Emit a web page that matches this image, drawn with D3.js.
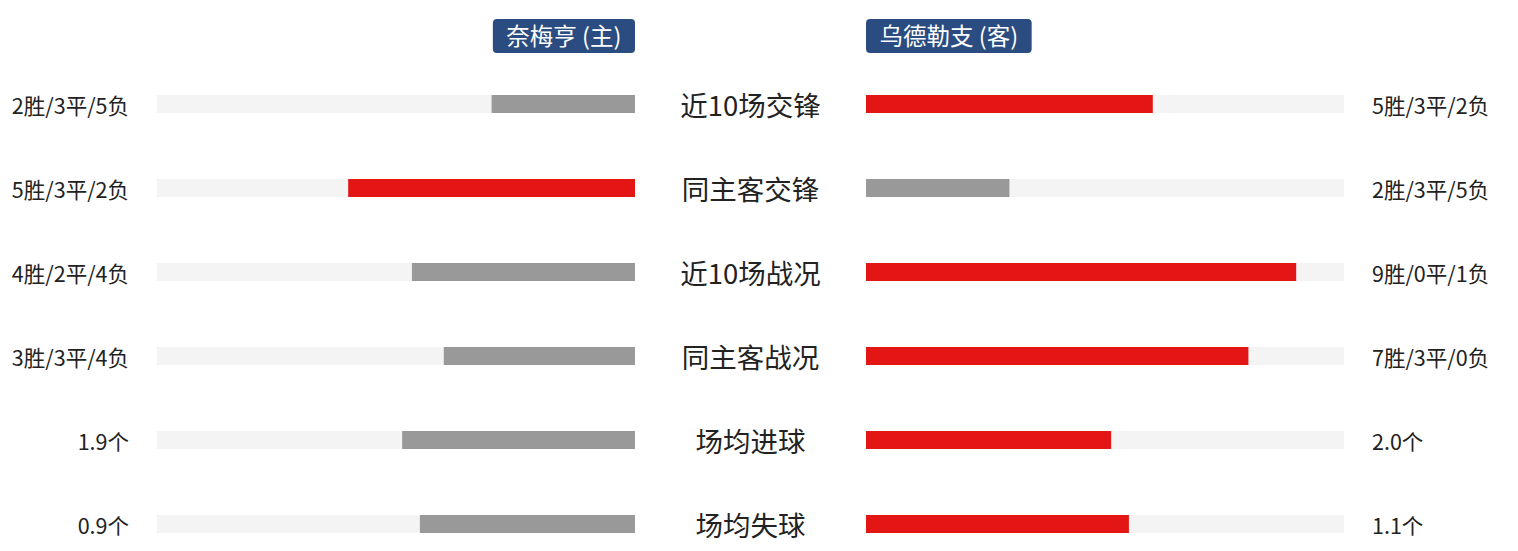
<!DOCTYPE html>
<html>
<head>
<meta charset="utf-8">
<script src="https://cdn.jsdelivr.net/npm/d3@7"></script>
<style>
  body { margin: 0; background: #fff; }
  text { font-family: "Noto Sans CJK SC", "Noto Sans", sans-serif; }
</style>
</head>
<body>
<svg id="chart"></svg>
<script>
const homeTeam = '奈梅亨 (主)'
const awayTeam = '乌德勒支 (客)'

const categories = ['近10场交锋', '同主客交锋', '近10场战况', '同主客战况', '场均进球', '场均失球']

// win / draw / loss records for the first four rows
const homeWins = [2, 5, 4, 3]
const homeDraws = [3, 3, 2, 3]
const homeLosses = [5, 2, 4, 4]
const awayWins = [5, 2, 9, 7]
const awayDraws = [3, 3, 0, 3]
const awayLosses = [2, 5, 1, 0]

// goals per match for the last two rows
const homeGoals = [1.9, 0.9]
const awayGoals = [2.0, 1.1]

const width = 1518
const height = 551
const leftStart = 157
const leftEnd = 635
const rightStart = 866
const rightEnd = 1344
const rowTop = 104
const rowStep = 84
const barHeight = 18

const red = '#e31515'
const gray = '#999999'
const track = '#f4f4f4'
const badge = '#2a4c80'

// build one row per category
const rows = categories.map((name, i) => {
  if (i < 4) {
    const hp = homeWins[i] * 3 + homeDraws[i]
    const ap = awayWins[i] * 3 + awayDraws[i]
    return {
      name,
      home: hp / 30,
      away: ap / 30,
      homeLabel: `${homeWins[i]}胜/${homeDraws[i]}平/${homeLosses[i]}负`,
      awayLabel: `${awayWins[i]}胜/${awayDraws[i]}平/${awayLosses[i]}负`,
    }
  }
  const h = homeGoals[i - 4]
  const a = awayGoals[i - 4]
  return {
    name,
    home: h / (h + a),
    away: a / (h + a),
    homeLabel: `${h.toFixed(1)}个`,
    awayLabel: `${a.toFixed(1)}个`,
  }
})

const y = d3.scalePoint()
  .domain(categories)
  .range([rowTop, rowTop + rowStep * (categories.length - 1)])

const xLeft = d3.scaleLinear().domain([0, 1]).range([leftEnd, leftStart])
const xRight = d3.scaleLinear().domain([0, 1]).range([rightStart, rightEnd])

const svg = d3.select('#chart')
  .attr('width', width)
  .attr('height', height)

// team badges
function addBadge(label, anchorX, side) {
  const g = svg.append('g')
  const t = g.append('text')
    .attr('y', 37)
    .attr('dy', '0.35em')
    .attr('fill', '#fff')
    .attr('font-size', 23.5)
    .text(label)
  const w = t.node().getComputedTextLength() + 27
  const x0 = side === 'left' ? anchorX - w : anchorX
  g.insert('rect', 'text')
    .attr('x', x0)
    .attr('y', 19)
    .attr('width', w)
    .attr('height', 34)
    .attr('rx', 4)
    .attr('fill', badge)
  t.attr('x', x0 + w / 2).attr('text-anchor', 'middle')
}
addBadge(homeTeam, leftEnd, 'left')
addBadge(awayTeam, rightStart, 'right')

const row = svg.selectAll('g.row')
  .data(rows)
  .enter().append('g')
  .attr('class', 'row')
  .attr('transform', d => `translate(0, ${y(d.name)})`)

// background tracks
row.append('rect')
  .attr('x', xLeft(1))
  .attr('y', -barHeight / 2)
  .attr('width', xLeft(0) - xLeft(1))
  .attr('height', barHeight)
  .attr('fill', track)
row.append('rect')
  .attr('x', xRight(0))
  .attr('y', -barHeight / 2)
  .attr('width', xRight(1) - xRight(0))
  .attr('height', barHeight)
  .attr('fill', track)

// value bars, red for the larger side
row.append('rect')
  .attr('x', d => xLeft(d.home))
  .attr('y', -barHeight / 2)
  .attr('width', d => xLeft(0) - xLeft(d.home))
  .attr('height', barHeight)
  .attr('fill', d => d.home > d.away ? red : gray)
row.append('rect')
  .attr('x', xRight(0))
  .attr('y', -barHeight / 2)
  .attr('width', d => xRight(d.away) - xRight(0))
  .attr('height', barHeight)
  .attr('fill', d => d.away > d.home ? red : gray)

// category names in the middle
row.append('text')
  .attr('x', (leftEnd + rightStart) / 2)
  .attr('y', 2)
  .attr('dy', '0.36em')
  .attr('text-anchor', 'middle')
  .attr('font-size', 27.5)
  .attr('fill', '#222')
  .text(d => d.name)

// side labels
row.append('text')
  .attr('x', 129)
  .attr('y', 2)
  .attr('dy', '0.36em')
  .attr('text-anchor', 'end')
  .attr('font-size', 21.5)
  .attr('fill', '#222')
  .text(d => d.homeLabel)
row.append('text')
  .attr('x', 1372)
  .attr('y', 2)
  .attr('dy', '0.36em')
  .attr('font-size', 21.5)
  .attr('fill', '#222')
  .text(d => d.awayLabel)
</script>
</body>
</html>
